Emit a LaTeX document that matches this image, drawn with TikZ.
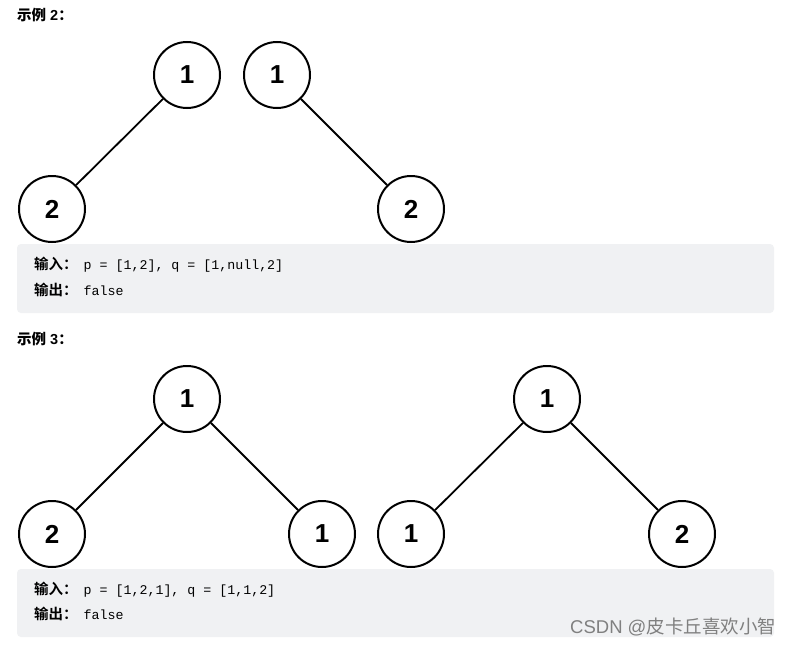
\documentclass[tikz,border=0pt]{standalone}
\usepackage{fontspec}
\setmainfont{Liberation Sans}
\setmonofont{Liberation Mono}
\newfontfamily\cjk{Noto Sans CJK SC}
\newfontfamily\cjkbold{Noto Sans CJK SC Bold}
\begin{document}
\begin{tikzpicture}[x=1pt,y=-1pt,
  tn/.style={circle,draw=black,line width=2pt,minimum size=66pt,inner sep=0pt,
    font=\fontsize{26}{26}\selectfont\bfseries},
  ed/.style={line width=1.8pt},
  box/.style={fill=boxgray,rounded corners=4pt,draw=none},
  ttl/.style={anchor=west,inner sep=0pt,font=\fontsize{14.5}{14.5}\selectfont\bfseries},
  io/.style={anchor=west,inner sep=0pt,font=\fontsize{14.5}{14.5}\selectfont}
]
\definecolor{boxgray}{HTML}{F0F1F3}
\newcommand{\mono}{\fontsize{13.3}{13.3}\selectfont\ttfamily}
\useasboundingbox[fill=white] (0,0) rectangle (795,645);
% titles
\node[ttl] (t2) at (17,15) {{\cjkbold 示例} 2{\cjkbold ：}};
\node[ttl] (t3) at (17,339) {{\cjkbold 示例} 3{\cjkbold ：}};
% example 2 trees
\node[tn] (a1) at (187,75) {1};
\node[tn] (a2) at (52,209) {2};
\node[tn] (b1) at (277,75) {1};
\node[tn] (b2) at (411,209) {2};
\draw[ed] (a1) -- (a2);
\draw[ed] (b1) -- (b2);
% box 1
\path[box] (17,244) rectangle (774,313);
\node[io] (i2) at (34,265) {{\cjkbold 输入：}\hspace{6pt}{\mono p = [1,2], q = [1,null,2]}};
\node[io] (o2) at (34,290) {{\cjkbold 输出：}\hspace{6pt}{\mono false}};
% example 3 trees
\node[tn] (c1) at (187,399) {1};
\node[tn] (c2) at (52,534) {2};
\node[tn] (c3) at (322,534) {1};
\node[tn] (d1) at (547,399) {1};
\node[tn] (d2) at (411,534) {1};
\node[tn] (d3) at (682,534) {2};
\draw[ed] (c1) -- (c2);
\draw[ed] (c1) -- (c3);
\draw[ed] (d1) -- (d2);
\draw[ed] (d1) -- (d3);
% box 2
\path[box] (17,569) rectangle (774,637);
\node[io] (i3) at (34,590) {{\cjkbold 输入：}\hspace{6pt}{\mono p = [1,2,1], q = [1,1,2]}};
\node[io] (o3) at (34,614) {{\cjkbold 输出：}\hspace{6pt}{\mono false}};
% watermark
\node[anchor=west,inner sep=0pt,text=black!50,font=\fontsize{18.5}{18.5}\selectfont] (wm) at (570,627) {CSDN @{\cjk 皮卡丘喜欢小智}};
\end{tikzpicture}
\end{document}
